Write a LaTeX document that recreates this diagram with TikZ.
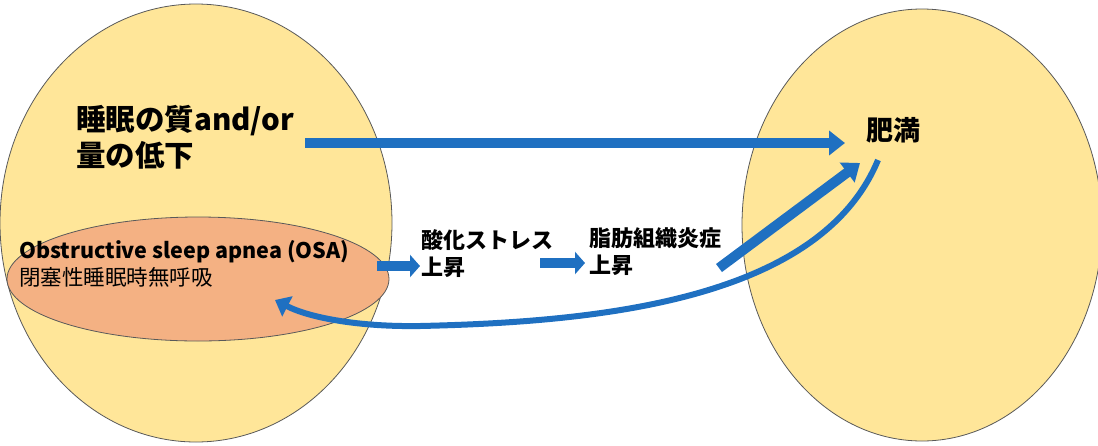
\documentclass[tikz,border=0pt]{standalone}
\usepackage{fontspec}
\setmainfont{Noto Sans CJK JP}
\usetikzlibrary{arrows.meta,shapes.geometric}
\definecolor{fillY}{HTML}{FFE699}
\definecolor{fillO}{HTML}{F4B183}
\definecolor{arr}{HTML}{1F70C1}
\begin{document}
\begin{tikzpicture}[x=1pt,y=-1pt,
  blob/.style={draw=black!65, line width=0.8pt},
  big/.style={draw=arr, line width=10pt, -{Triangle[length=16pt,width=24pt]}},
  small/.style={draw=arr, line width=10pt, -{Triangle[length=10pt,width=22pt]}},
  lab/.style={font=\bfseries, anchor=west, align=left, inner sep=0pt}]
\useasboundingbox (0,0) rectangle (1098,445);
\node[blob, fill=fillY, ellipse, minimum width=392pt, minimum height=438pt, inner sep=0pt] (L) at (196,223) {};
\node[blob, fill=fillY, ellipse, minimum width=360pt, minimum height=432pt, inner sep=0pt] (R) at (922,225) {};
\node[blob, fill=fillO, ellipse, minimum width=382pt, minimum height=124pt, inner sep=0pt] (O) at (198,279) {};
\node[lab, font=\bfseries\fontsize{29.5}{36}\selectfont] (q) at (76,137) {睡眠の質and/or\\量の低下};
\node[lab, font=\bfseries\fontsize{27}{30}\selectfont] (h) at (866,130) {肥満};
\node[lab, font=\fontsize{21.5}{27}\selectfont] (osa) at (19,264) {\textbf{Obstructive sleep apnea (OSA)}\\閉塞性睡眠時無呼吸};
\node[lab, font=\bfseries\fontsize{22}{27}\selectfont] (s) at (421,254) {酸化ストレス\\上昇};
\node[lab, font=\bfseries\fontsize{22}{27}\selectfont] (f) at (589,252) {脂肪組織炎症\\上昇};
\coordinate (a1) at (305,143); \coordinate (a2) at (845,143);
\draw[big] (a1) -- (a2);
\coordinate (b1) at (377,266); \coordinate (b2) at (420,266);
\draw[small] (b1) -- (b2);
\coordinate (c1) at (540,263); \coordinate (c2) at (585,263);
\draw[small] (c1) -- (c2);
\coordinate (d1) at (719,268); \coordinate (d2) at (860,163);
\draw[big] (d1) -- (d2);
\coordinate (e1) at (878,160); \coordinate (e2) at (275,300);
\draw[draw=arr, line width=6pt, -{Triangle[length=14pt,width=22pt]}] (e1) .. controls (820,300) and (600,322) .. (420,326) .. controls (360,327) and (310,318) .. (e2);
\end{tikzpicture}
\end{document}
